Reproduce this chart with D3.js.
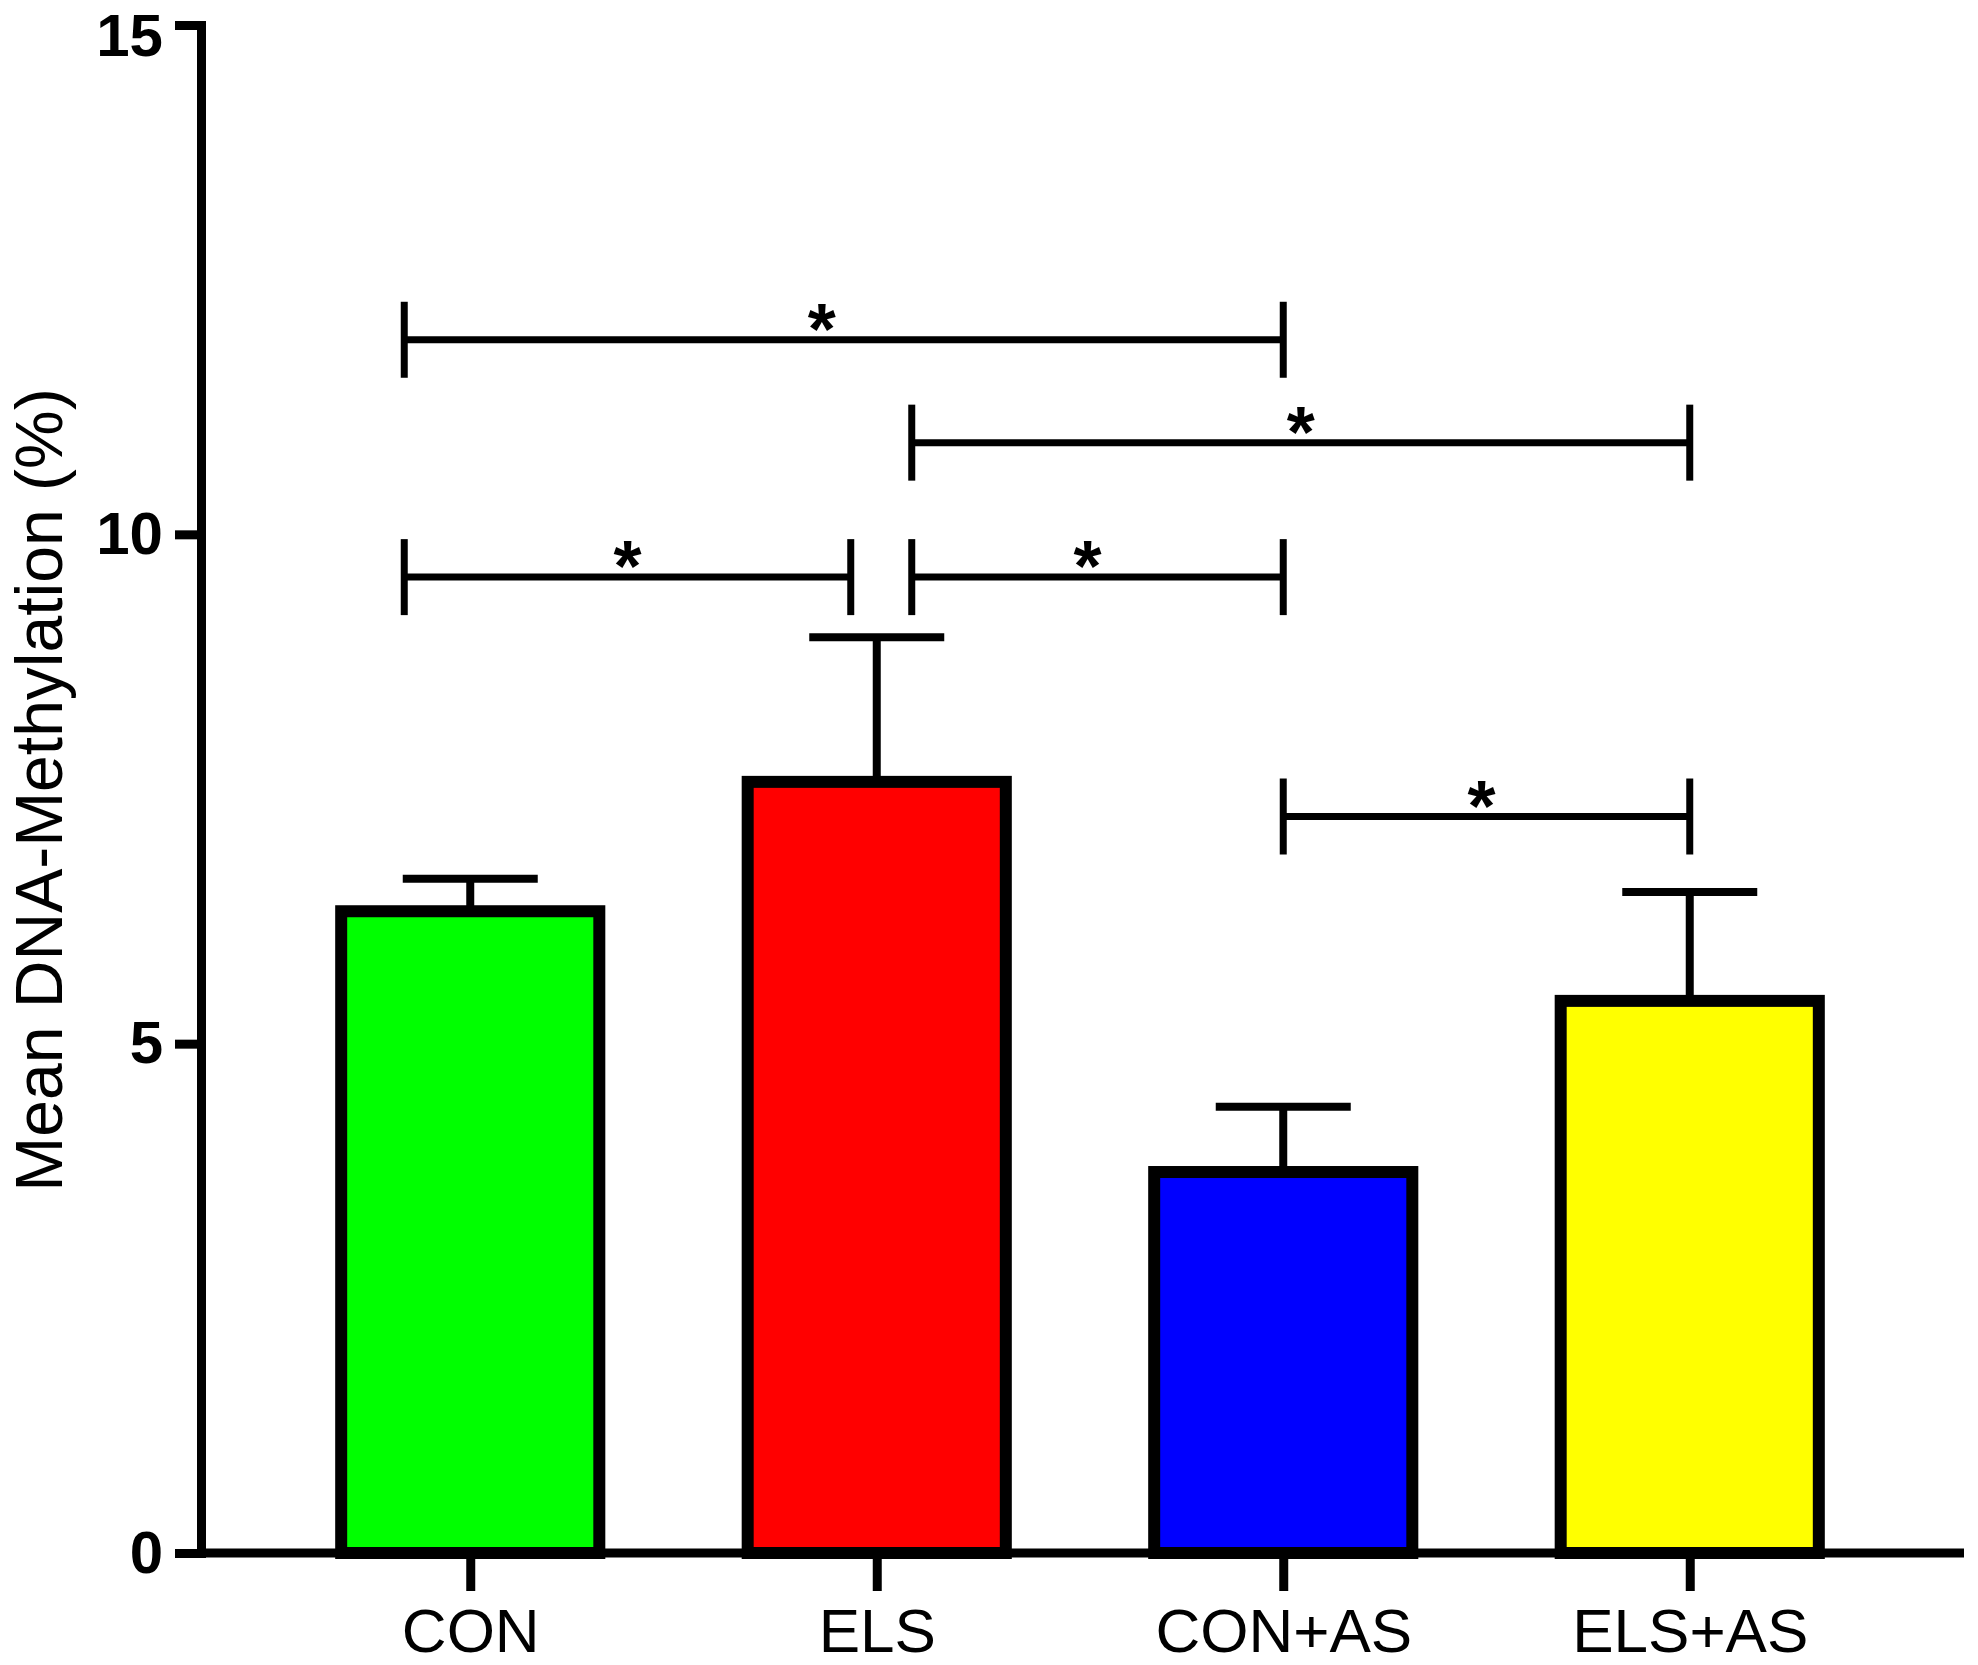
<!DOCTYPE html>
<html>
<head>
<meta charset="utf-8">
<script src="https://cdn.jsdelivr.net/npm/d3@7"></script>
<style>
  html, body { margin: 0; padding: 0; background: #fff; }
  svg { display: block; }
</style>
</head>
<body>
<script>
// ---- data ----
const categories = ["CON", "ELS", "CON+AS", "ELS+AS"];
const means = [6.30, 7.57, 3.74, 5.42];
const sem = [0.32, 1.42, 0.64, 1.07];
const yTicks = [0, 5, 10, 15];
const yTitle = "Mean DNA-Methylation (%)";
// significance comparisons (bracket height in data units)
const compFrom = ["CON", "ELS", "CON", "ELS", "CON+AS"];
const compTo = ["CON+AS", "ELS+AS", "ELS", "CON+AS", "ELS+AS"];
const compLevel = [11.91, 10.90, 9.58, 9.58, 7.23];
const compLabel = ["*", "*", "*", "*", "*"];

// ---- styles / layout ----
const barColors = ["#00ff00", "#ff0000", "#0000ff", "#ffff00"];
const W = 1978, H = 1665;
// horizontal offsets (px) of bracket ends relative to category centres
const compFromDx = [-66, 35, -66, 35, 0];
const compToDx = [0, 0, -26, 0, 0];
const compStarDx = [-22, 0, 0, -10, -5];
const FONT = "'Liberation Sans', Arial, Helvetica, sans-serif";

const svg = d3.select("body").append("svg")
  .attr("width", W).attr("height", H)
  .style("background", "#fff");

const x = d3.scalePoint().domain(categories).range([267, 1893]).padding(0.5);
const y = d3.scaleLinear().domain([0, 15]).range([1553, 25]);
const axisX = 201;
const barW = x.step() * 0.635;

// error bars
const eb = svg.append("g").attr("stroke", "#000").attr("stroke-width", 8).attr("fill", "none");
categories.forEach((c, i) => {
  const cx = x(c);
  eb.append("line").attr("x1", cx).attr("x2", cx)
    .attr("y1", y(means[i])).attr("y2", y(means[i] + sem[i]));
  eb.append("line").attr("x1", cx - 67.5).attr("x2", cx + 67.5)
    .attr("y1", y(means[i] + sem[i])).attr("y2", y(means[i] + sem[i]));
});

// bars
svg.append("g").selectAll("rect").data(categories).join("rect")
  .attr("x", d => x(d) - barW / 2)
  .attr("y", (d, i) => y(means[i]))
  .attr("width", barW)
  .attr("height", (d, i) => y(0) - y(means[i]))
  .attr("fill", (d, i) => barColors[i])
  .attr("stroke", "#000")
  .attr("stroke-width", 12);

// y axis
const gy = svg.append("g").attr("transform", `translate(${axisX},0)`)
  .call(d3.axisLeft(y).tickValues(yTicks).tickSize(26).tickSizeOuter(0).tickPadding(12).tickFormat(d3.format("d")));
gy.select(".domain").attr("stroke-width", 9).attr("stroke-linecap", "square");
gy.selectAll(".tick line").attr("stroke-width", 9);
gy.selectAll(".tick text")
  .attr("font-family", FONT)
  .attr("font-weight", "bold").attr("font-size", 60).attr("fill", "#000")
  .attr("dy", d => d === 15 ? "0.5em" : "0.32em");

// x axis baseline
svg.append("line").attr("x1", axisX).attr("x2", 1964)
  .attr("y1", y(0)).attr("y2", y(0))
  .attr("stroke", "#000").attr("stroke-width", 9);

const gx = svg.append("g").attr("transform", `translate(0,${y(0)})`)
  .call(d3.axisBottom(x).tickSize(38).tickSizeOuter(0).tickPadding(17));
gx.select(".domain").remove();
gx.selectAll(".tick line").attr("stroke-width", 9);
gx.selectAll(".tick text")
  .attr("font-family", FONT)
  .attr("font-size", 62).attr("fill", "#000");

// y title
svg.append("text")
  .attr("transform", `translate(62,790) rotate(-90)`)
  .attr("text-anchor", "middle")
  .attr("font-family", FONT)
  .attr("font-size", 66).attr("fill", "#000")
  .text(yTitle);

// significance brackets
const br = svg.append("g");
compFrom.forEach((f, i) => {
  const x1 = x(f) + compFromDx[i];
  const x2 = x(compTo[i]) + compToDx[i];
  const yy = y(compLevel[i]);
  const g = br.append("g").attr("stroke", "#000").attr("stroke-width", 7);
  g.append("line").attr("x1", x1).attr("x2", x2).attr("y1", yy).attr("y2", yy);
  g.append("line").attr("x1", x1).attr("x2", x1).attr("y1", yy - 38).attr("y2", yy + 38);
  g.append("line").attr("x1", x2).attr("x2", x2).attr("y1", yy - 38).attr("y2", yy + 38);
  br.append("text")
    .attr("x", (x1 + x2) / 2 + compStarDx[i])
    .attr("y", yy + 14)
    .attr("text-anchor", "middle")
    .attr("font-family", FONT)
    .attr("font-weight", "bold").attr("font-size", 72).attr("fill", "#000")
    .text(compLabel[i]);
});
</script>
</body>
</html>
